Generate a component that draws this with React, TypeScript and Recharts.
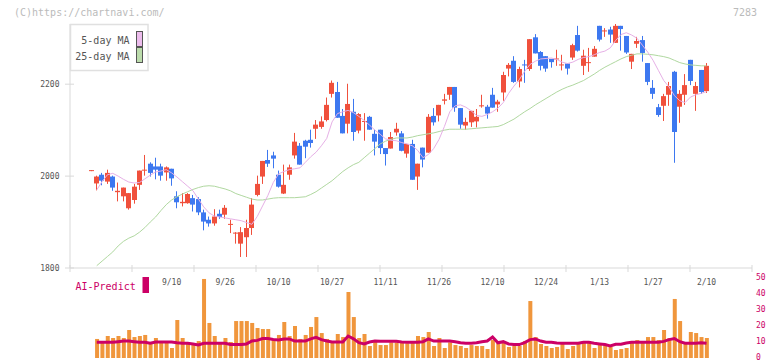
import React from 'react';
import { ComposedChart, Bar, Line, XAxis, YAxis } from 'recharts';

// daily candles, oldest first (last one is 2/10)
const opens = [
  2013, 1984, 2003, 1988, 1999, 1965, 1956, 1930, 1948, 1981, 2012, 2027, 2021, 2021, 2008, 2016,
  1956, 1941, 1941, 1952, 1950, 1921, 1905, 1897, 1918, 1916, 1894, 1876, 1853, 1867, 1887, 1959,
  1999, 2035, 2045, 2003, 1962, 2003, 2045, 2066, 2077, 2079, 2103, 2107, 2122, 2179, 2183, 2131,
  2114, 2140, 2099, 2118, 2129, 2092, 2101, 2061, 2060, 2095, 2093, 2049, 2070, 1999, 2062, 2051,
  2131, 2132, 2164, 2177, 2194, 2148, 2110, 2117, 2119, 2152, 2151, 2177, 2156, 2182, 2234, 2251,
  2206, 2243, 2233, 2302, 2270, 2261, 2255, 2254, 2241, 2245, 2258, 2307, 2240, 2246, 2260, 2327,
  2315, 2319, 2290, 2327, 2305, 2249, 2288, 2296, 2246, 2192, 2150, 2153, 2177, 2227, 2151, 2177,
  2253, 2179, 2231, 2185,
];
const highs = [
  2013, 2001, 2007, 2014, 2001, 1986, 1975, 1963, 1983, 2012, 2046, 2030, 2040, 2027, 2021, 2016,
  1967, 1963, 1963, 1959, 1954, 1927, 1912, 1928, 1927, 1937, 1905, 1878, 1889, 1905, 1952, 2001,
  2033, 2057, 2053, 2012, 2025, 2025, 2094, 2072, 2079, 2101, 2122, 2130, 2171, 2208, 2205, 2146,
  2201, 2168, 2137, 2137, 2131, 2101, 2101, 2061, 2096, 2116, 2098, 2070, 2079, 2027, 2062, 2135,
  2148, 2155, 2179, 2194, 2194, 2148, 2127, 2142, 2146, 2177, 2155, 2192, 2166, 2227, 2246, 2261,
  2238, 2253, 2298, 2309, 2272, 2261, 2255, 2275, 2264, 2245, 2288, 2327, 2275, 2279, 2283, 2327,
  2322, 2325, 2331, 2327, 2305, 2266, 2303, 2305, 2246, 2209, 2157, 2179, 2205, 2229, 2187, 2222,
  2253, 2205, 2231, 2246,
];
const lows = [
  2013, 1969, 1980, 1983, 1968, 1945, 1945, 1927, 1940, 1970, 2001, 1999, 1993, 1990, 1990, 1979,
  1930, 1934, 1940, 1923, 1915, 1882, 1890, 1892, 1907, 1907, 1876, 1853, 1824, 1824, 1872, 1956,
  1983, 2020, 2017, 1975, 1961, 1992, 2038, 2025, 2039, 2062, 2081, 2103, 2119, 2171, 2127, 2093,
  2093, 2077, 2093, 2077, 2101, 2045, 2048, 2023, 2060, 2088, 2054, 2040, 1992, 1970, 2019, 2051,
  2110, 2119, 2156, 2166, 2140, 2103, 2101, 2107, 2106, 2149, 2125, 2149, 2140, 2164, 2217, 2203,
  2193, 2203, 2229, 2267, 2230, 2227, 2236, 2240, 2230, 2221, 2253, 2271, 2220, 2227, 2260, 2293,
  2303, 2290, 2290, 2273, 2266, 2233, 2279, 2249, 2198, 2168, 2129, 2120, 2153, 2029, 2116, 2155,
  2198, 2142, 2179, 2181,
];
const closes = [
  2013, 1999, 1990, 2007, 1975, 1968, 1975, 1963, 1977, 2012, 2014, 2007, 2014, 2001, 2019, 1995,
  1943, 1944, 1961, 1938, 1921, 1901, 1897, 1912, 1911, 1931, 1896, 1877, 1878, 1887, 1938, 1983,
  2033, 2027, 2038, 1977, 1981, 2019, 2075, 2025, 2064, 2072, 2112, 2119, 2155, 2203, 2127, 2093,
  2157, 2096, 2135, 2120, 2101, 2075, 2061, 2048, 2085, 2103, 2055, 2070, 1992, 2027, 2036, 2129,
  2117, 2155, 2167, 2194, 2149, 2112, 2118, 2142, 2129, 2154, 2136, 2149, 2162, 2220, 2242, 2205,
  2233, 2241, 2298, 2267, 2240, 2234, 2248, 2256, 2243, 2234, 2285, 2273, 2262, 2248, 2277, 2297,
  2317, 2308, 2327, 2320, 2269, 2266, 2294, 2268, 2205, 2179, 2133, 2174, 2196, 2096, 2179, 2198,
  2207, 2196, 2183, 2240,
];
const ma5 = [
  null, 1970, 1988, 2003, 2006, 2000, 1993, 1987, 1985, 1986, 1994,
  2002, 2009, 2011, 2014, 2007, 1998, 1988, 1978, 1968, 1950,
  1933, 1920, 1913, 1911, 1909, 1907, 1905, 1903, 1899, 1895,
  1912, 1935, 1958, 1986, 2005, 2010, 2014, 2016, 2018, 2030,
  2042, 2052, 2066, 2082, 2118, 2136, 2140, 2143, 2138, 2130,
  2121, 2111, 2100, 2091, 2081, 2078, 2077, 2073, 2070, 2066,
  2056, 2040, 2047, 2060, 2080, 2108, 2140, 2153, 2155, 2150,
  2142, 2132, 2130, 2134, 2140, 2148, 2160, 2180, 2196, 2210,
  2228, 2243, 2250, 2255, 2256, 2257, 2254, 2248, 2245, 2248,
  2254, 2258, 2260, 2264, 2269, 2272, 2279, 2295, 2308, 2312,
  2307, 2300, 2285, 2270, 2252, 2230, 2208, 2194, 2175, 2164,
  2160, 2172, 2177, 2180, 2184,
];
const ma25 = [
  null, 1805, 1815, 1825, 1835, 1848, 1858, 1865, 1870, 1878, 1888,
  1900, 1911, 1925, 1938, 1948, 1955, 1961, 1966, 1971, 1975,
  1978, 1979, 1978, 1975, 1972, 1968, 1962, 1958, 1954, 1950,
  1948, 1948, 1950, 1952, 1953, 1953, 1953, 1953, 1954, 1955,
  1960, 1966, 1974, 1982, 1990, 2000, 2010, 2018, 2025, 2030,
  2040, 2050, 2060, 2070, 2076, 2080, 2083, 2083, 2083, 2085,
  2088, 2090, 2092, 2094, 2097, 2100, 2102, 2102, 2102, 2102,
  2103, 2104, 2105, 2106, 2107, 2108, 2112, 2118, 2124, 2132,
  2140, 2147, 2155, 2162, 2169, 2176, 2183, 2189, 2194, 2198,
  2203, 2208, 2215, 2222, 2230, 2237, 2243, 2249, 2255, 2260,
  2263, 2266, 2266, 2265, 2264, 2262, 2260, 2257, 2252, 2247,
  2244, 2242, 2241, 2240, 2240,
];
const volume = [
  null, 11.9, 9.8, 13.75, 12.5, 13.75, 12.5, 17.5, 13.1, 13.75, 14.4,
  8.75, 12.5, 10.6, 10.6, 6.25, 23.75, 12.5, 9.4, 8.75, 10.6,
  49.4, 21.9, 13.75, 9.4, 12.5, 10, 23.1, 23.1, 23.1, 21.9,
  18.75, 18.1, 18.1, 11.25, 14.4, 22.5, 13.75, 20, 11.9, 14.4,
  19.4, 25.6, 15.6, 11.9, 10.6, 15, 13.1, 41.25, 25.6, 12.5,
  15, 7.5, 10.6, 8.1, 8.1, 9.8, 9.8, 9.8, 9.2, 9.8,
  13.75, 13.1, 16.25, 7.5, 12.5, 6.25, 9.8, 8.1, 7.5, 6.25,
  8.1, 7.5, 7.5, 5.6, 11.25, 9.4, 9.8, 6.9, 7.5, 7.5,
  10.6, 35.6, 13.1, 8.75, 7.5, 6.25, 6.9, 9.4, 5.6, 7.5,
  9.4, 9.4, 9.4, 6.25, 8.75, 8.1, 6.9, 5, 5.6, 6.25,
  9.4, 11.25, 9.4, 13.1, 13.1, 11.25, 17.5, 12.5, 36.9, 23.1,
  9.4, 16.25, 15.6, 13.1, 12.5,
];
const aiPredict = [
  null, 9.8, 9.8, 9.8, 9.8, 10.2, 10.6, 10.6, 10.2, 9.8, 9.8,
  9.2, 10, 10, 10, 10, 9.5, 9.2, 9.2, 8.8, 8.1,
  9.2, 9.2, 9.2, 9.2, 9.2, 8.4, 8.4, 8.4, 8.8, 10.6,
  11, 12.2, 12.2, 11.6, 11.2, 11.9, 11.9, 10.6, 10.6, 10.6,
  12, 12.9, 11.5, 10.6, 10, 10, 10, 13.75, 12, 9.6,
  8.8, 10, 10.6, 10.4, 10.4, 10.4, 10.4, 10, 9.8, 9.8,
  9.8, 10.2, 11.9, 10.6, 10.6, 10.6, 10.6, 10.2, 9.5, 9.2,
  9.2, 9.5, 10.2, 10.6, 13.1, 9.5, 10.2, 8.8, 8.4, 8.4,
  9.6, 11.5, 11.9, 10.6, 9.8, 9.8, 9.4, 9.2, 9.2, 9.2,
  9.2, 9.8, 9.8, 9.2, 8.8, 8.4, 7.5, 8.6, 8.6, 9.4,
  9.8, 9.8, 9.8, 9.8, 9.8, 9.8, 10.4, 11.5, 12.2, 10.2,
  9.2, 9.2, 9.2, 9.6, 9.2,
];

const dateLabels = ['9/10', '9/26', '10/10', '10/27', '11/11', '11/26', '12/10', '12/24', '1/13', '1/27', '2/10'];
const firstLabelDay = 15; // candle index of the first date label
const labelStep = 10;
const priceTicks = [1800, 2000, 2200];
const volTicks = [0, 10, 20, 30, 40, 50];

const X_DOMAIN: [number, number] = [-4, 123.5];
const GRID_DIVISIONS = 11;

const UP = '#f0503c';
const DOWN = '#3d78f0';
const AXIS = '#d9d9d9';
const MAGENTA = '#cc0066';
const FONT = '"DejaVu Sans Mono", "Liberation Mono", monospace';

const rows = opens.map((o, i) => ({
  idx: i,
  open: o,
  high: highs[i],
  low: lows[i],
  close: closes[i],
  range: [lows[i], highs[i]],
  ma5: ma5[i],
  ma25: ma25[i],
  vol: volume[i],
  ai: aiPredict[i],
}));

const gridTicks = Array.from(
  { length: GRID_DIVISIONS + 1 },
  (_, k) => X_DOMAIN[0] + ((X_DOMAIN[1] - X_DOMAIN[0]) * k) / GRID_DIVISIONS
);
const labelTicks = dateLabels.map((_, k) => firstLabelDay + k * labelStep);

const Candle = (props: any) => {
  const { x, y, width, height, payload } = props;
  const { open, close, high, low } = payload;
  const color = close >= open ? UP : DOWN;
  const span = high - low;
  const toY = (v: number) => (span === 0 ? y : y + ((high - v) / span) * height);
  const left = Math.round(x + width / 2 - 2.5);
  const top = toY(Math.max(open, close));
  const bottom = toY(Math.min(open, close));
  return (
    <g>
      <rect x={left + 2} y={y} width={1} height={Math.max(height, 1)} fill={color} />
      <rect x={left} y={top} width={5} height={Math.max(bottom - top, 1)} fill={color} />
    </g>
  );
};

const GridTick = ({ x, y }: any) => (
  <line x1={x} x2={x} y1={y - 3} y2={y + 4} stroke={AXIS} />
);

const PriceTick = ({ x, y, payload }: any) => (
  <g>
    <line x1={x - 5} x2={x + 4} y1={y} y2={y} stroke={AXIS} />
    <text x={x - 10.5} y={y} dy="0.35em" textAnchor="end" fontSize={8} fill="#555" fontFamily={FONT}>
      {payload.value}
    </text>
  </g>
);

const DateTick = ({ x, y, payload }: any) => (
  <text x={x} y={y + 4} dy="0.35em" textAnchor="middle" fontSize={8} fill="#555" fontFamily={FONT}>
    {dateLabels[Math.round((payload.value - firstLabelDay) / labelStep)]}
  </text>
);

const VolTick = ({ x, y, payload }: any) => (
  <text x={x + 4} y={y} dy="0.25em" textAnchor="start" fontSize={8} fill={MAGENTA} fontFamily={FONT}>
    {payload.value}
  </text>
);

const legendItems = [
  { name: '5-day MA', fill: '#ecbcec', y: 40 },
  { name: '25-day MA', fill: '#bcdcac', y: 56 },
];

export default function App() {
  return (
    <div style={{ position: 'absolute', left: 0, top: 0, width: 772, height: 361, background: '#fff', fontFamily: FONT }}>
      <div style={{ position: 'absolute', left: 0, top: 0 }}>
        <ComposedChart width={772} height={280} data={rows} margin={{ top: 24, right: 20, bottom: 0, left: 0 }}>
          <XAxis
            dataKey="idx"
            type="number"
            domain={X_DOMAIN}
            ticks={gridTicks}
            interval={0}
            height={12}
            axisLine={{ stroke: AXIS }}
            tickLine={false}
            tickSize={0}
            tickMargin={0}
            tick={GridTick}
            allowDataOverflow
          />
          <YAxis
            domain={[1800, 2331]}
            ticks={priceTicks}
            interval={0}
            width={70}
            axisLine={{ stroke: AXIS }}
            tickLine={false}
            tickSize={0}
            tickMargin={0}
            tick={PriceTick}
            allowDataOverflow
          />
          <Line dataKey="ma25" stroke="#b0d8a0" strokeWidth={1} dot={false} isAnimationActive={false} />
          <Line dataKey="ma5" stroke="#e6b0e6" strokeWidth={1} dot={false} isAnimationActive={false} />
          <Bar dataKey="range" barSize={5} shape={Candle} isAnimationActive={false} />
        </ComposedChart>
      </div>

      <div style={{ position: 'absolute', left: 0, top: 270 }}>
        <ComposedChart width={772} height={91} data={rows} margin={{ top: 0, right: 0, bottom: 3, left: 70 }}>
          <XAxis
            dataKey="idx"
            type="number"
            orientation="top"
            domain={X_DOMAIN}
            ticks={labelTicks}
            interval={0}
            height={8}
            axisLine={false}
            tickLine={false}
            tickSize={0}
            tickMargin={0}
            tick={DateTick}
            allowDataOverflow
          />
          <YAxis
            orientation="right"
            domain={[0, 50]}
            ticks={volTicks}
            interval={0}
            width={20}
            axisLine={false}
            tickLine={false}
            tickSize={0}
            tickMargin={0}
            tick={VolTick}
            allowDataOverflow
          />
          <Bar dataKey="vol" barSize={4} fill="#f0963c" isAnimationActive={false} />
          <Line dataKey="ai" stroke={MAGENTA} strokeWidth={3} dot={false} isAnimationActive={false} />
        </ComposedChart>
      </div>

      <svg width={772} height={361} style={{ position: 'absolute', left: 0, top: 0, pointerEvents: 'none' }}>
        <text x={14} y={12} dy="0.35em" fontSize={10} fill="#bbb" fontFamily={FONT}>(C)https://chartnavi.com/</text>
        <text x={757} y={12} dy="0.35em" fontSize={10} fill="#bbb" textAnchor="end" fontFamily={FONT}>7283</text>

        <rect x={70.5} y={24.5} width={77.5} height={46} fill="#fff" stroke="#e0e0e0" strokeWidth={1.5} />
        {legendItems.map((it) => (
          <g key={it.name}>
            <text x={129.5} y={it.y} dy="0.35em" textAnchor="end" fontSize={10} fill="#555" fontFamily={FONT}>
              {it.name}
            </text>
            <rect x={136.5} y={it.y - 8.5} width={6} height={15} fill={it.fill} stroke="#555" />
          </g>
        ))}

        <text x={75.5} y={286} dy="0.35em" fontSize={10} fill={MAGENTA} fontFamily={FONT}>AI-Predict</text>
        <rect x={142.5} y={277} width={6.5} height={16} fill={MAGENTA} />
      </svg>
    </div>
  );
}
